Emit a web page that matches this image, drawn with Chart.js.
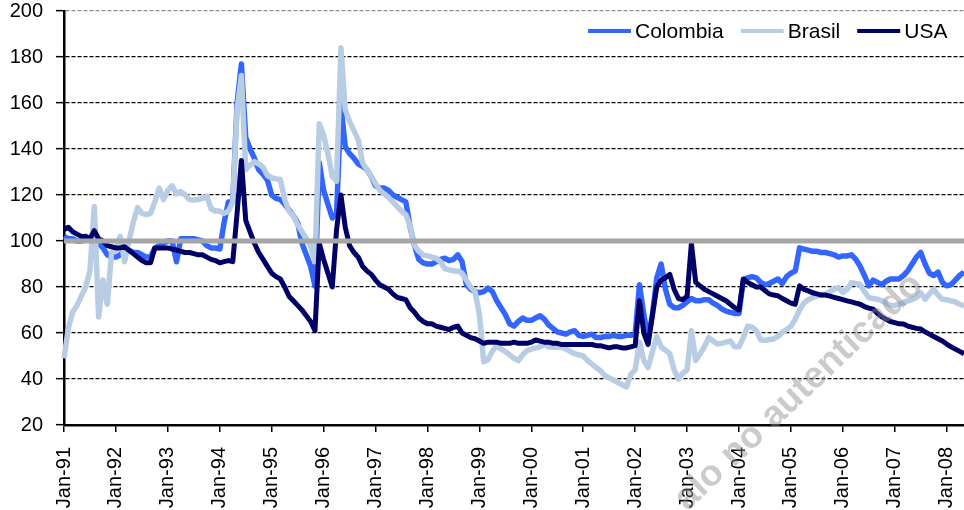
<!DOCTYPE html>
<html>
<head>
<meta charset="utf-8">
<script src="https://cdn.jsdelivr.net/npm/chart.js@4.4.0/dist/chart.umd.min.js"></script>
<style>
  html, body { margin: 0; padding: 0; background: #fff; }
</style>
</head>
<body>
<canvas id="myChart" width="964" height="510"></canvas>
<script>
// monthly index values, Jan-91 .. May-08
const monthNames = ['Jan', 'Feb', 'Mar', 'Apr', 'May', 'Jun', 'Jul', 'Aug', 'Sep', 'Oct', 'Nov', 'Dec'];
const years = ['91', '92', '93', '94', '95', '96', '97', '98', '99', '00', '01', '02', '03', '04', '05', '06', '07', '08'];
const lastYearMonths = 5;

const colombia = [
  102, 101, 101, 100, 100, 102, 101, 100, 99, 97, 94, 93,
  93, 94, 96, 96, 95, 95, 94, 93, 93, 97, 98, 99,
  100, 100, 91, 101, 101, 101, 101, 100.5, 100, 98, 97, 97,
  96.5, 108, 117, 117, 160, 177, 145, 140, 136, 131, 129, 126.5,
  120, 118.5, 118, 116, 113.5, 111, 108, 99, 94, 89, 80.5, 134,
  122, 116, 110, 112, 159, 141, 138, 136, 133.5, 132.5, 131, 128,
  124, 123, 123, 122, 120, 119, 118, 117, 106, 98, 92, 90.5,
  90, 90, 91, 92, 92.5, 91.5, 92, 94, 91, 81, 79, 78,
  77.5, 78, 79.5, 78, 74, 71, 68, 64, 63, 65, 66.5, 65.5,
  65.5, 66.5, 67.5, 66, 63.5, 62, 60.5, 60, 59.5, 60.5, 61, 59,
  58.5, 59, 59.5, 58, 58, 58.5, 58.5, 59, 58.5, 58.5, 59, 59,
  59.5, 81, 68, 57.5, 68, 84, 90, 79, 72.5, 71, 71, 72,
  73.5, 75, 74, 74, 74.5, 74.5, 73, 72, 70.5, 69.5, 69, 68.5,
  68.5, 83, 84, 84.5, 84, 82, 81, 81.5, 82.5, 83.5, 81.5, 84.5,
  86, 87, 97, 96.5, 96, 95.5, 95.5, 95, 95, 94.5, 94, 93,
  93.5, 93.5, 94, 92, 89, 85, 80.5, 83, 82, 81, 82.5, 83.5,
  83.5, 83.5, 85, 87, 90, 93, 95, 90, 86, 85, 86.5, 82,
  80.5, 81, 83, 85, 86.5
];

const brasil = [
  49, 62, 69, 72, 76, 80, 87, 115, 67, 83, 72.5, 95,
  96, 102, 91, 100, 108, 114.5, 112, 111.5, 112, 117, 123, 118,
  122, 124, 120.5, 121.5, 120, 118, 117.8, 118, 118.5, 119.5, 114, 113,
  113, 112, 113, 117, 157, 172, 131, 133, 134.5, 133.5, 132, 128.5,
  127.5, 127, 126.7, 118, 113, 111, 107, 104, 101, 98, 91, 151,
  146, 138, 128, 126, 184, 157, 152, 148, 144, 134, 131, 128,
  125, 122, 120.5, 119, 117, 115, 113, 111.5, 106.5, 98, 95.5, 94,
  93.5, 93, 92.5, 91, 88, 87.5, 87, 87, 86, 83, 80, 78,
  68, 47.5, 48.5, 52, 54.5, 53, 52, 50.5, 49, 48, 50.5, 52.3,
  53, 53.5, 54, 55, 54, 53.8, 53.8, 53.8, 53, 52, 51, 50.5,
  50, 48, 46.5, 45, 43.5, 41.5, 40.5, 39.5, 38.5, 37.5, 36.5, 42,
  44, 56, 48, 45, 52, 58.5, 54, 52.5, 51, 44, 40, 42.5,
  44, 61, 48, 51, 54, 58, 56.5, 55.2, 55.5, 56, 56.5, 54,
  54, 58, 63, 62.5, 61, 57, 56.8, 57.2, 57.4, 58.5, 60.3, 61.5,
  63, 66, 70, 73, 74.5, 75.4, 76, 76.5, 77, 78, 79, 79.8,
  77.6, 79, 81.9, 81.5, 81.2, 78, 75.4, 75, 74.7, 74, 73, 72,
  72, 72.5, 73.3, 74, 74.5, 75.5, 77.5, 74.7, 77, 79, 76.5, 74.7,
  74.5, 74, 73.5, 72.5, 71.8
];

const usa = [
  105, 106, 104, 103, 102, 102, 101, 104.5, 101, 100, 98, 97.5,
  97, 97, 97.5, 96, 94.5, 93, 91.5, 90.5, 90.5, 97, 97, 97,
  97, 96.5, 96, 95.5, 95, 95, 94.5, 94, 94, 93, 92, 91.5,
  90.5, 91, 91.5, 91, 112, 135, 109, 104, 99, 95, 92, 89,
  86, 84.5, 83.5, 80, 76, 74, 72, 70, 67.5, 65, 61, 99,
  92, 86, 80, 105, 120, 106, 98, 95, 93, 89, 87, 85.5,
  83, 81, 80, 79, 77, 75.5, 75, 74.5, 71, 69, 66.5, 65,
  64, 64, 63, 62.5, 62, 61.5, 62.5, 63, 60, 59, 58, 57.5,
  56.5, 55.5, 56, 56, 56, 55.5, 55.5, 55.5, 56, 55.5, 55.5, 55.5,
  56, 57, 56.5, 56, 56, 55.5, 55.5, 55, 55, 55, 55, 55,
  55, 55, 55, 54.5, 54.5, 54, 53.5, 54, 54, 53.5, 53.5, 54,
  54.5, 74, 60, 55, 68, 80, 83, 84, 85.5, 79, 75, 74.5,
  76, 99, 82, 80.5, 79, 78, 77, 76, 75, 74, 72.5, 71,
  70, 83.5, 82, 81, 80, 80, 78.5, 77, 76.5, 76.2, 75, 74,
  73, 72.5, 80.5, 79, 78.3, 77.5, 77, 76.5, 76.5, 76, 75.5, 75,
  74.5, 74, 73.5, 73, 72.5, 71.5, 70.8, 70.4, 68.5, 67, 66, 65,
  64.5, 64, 63.9, 63, 62.5, 62, 61.7, 60.5, 59.5, 58.5, 57.5, 56.5,
  55.2, 54, 53, 52, 51
];

const baseline = 100;

const labels = [];
years.forEach((yy, k) => {
  const n = k === years.length - 1 ? lastYearMonths : 12;
  for (let m = 0; m < n; m++) labels.push(`${monthNames[m]}-${yy}`);
});

const fontFamily = '"Liberation Sans", Arial, Helvetica, sans-serif';
Chart.defaults.font.family = fontFamily;

// legend drawn inside the plot, top right
const insideLegend = {
  id: 'insideLegend',
  afterDraw(chart) {
    const ctx = chart.ctx;
    const items = chart.data.datasets.filter(d => d.inLegend).reverse();
    ctx.save();
    ctx.font = '21px ' + fontFamily;
    ctx.textBaseline = 'middle';
    let x = 588;
    const y = 32;
    items.forEach(item => {
      ctx.strokeStyle = item.borderColor;
      ctx.lineWidth = 4;
      ctx.beginPath();
      ctx.moveTo(x, y - 1);
      ctx.lineTo(x + 43, y - 1);
      ctx.stroke();
      x += 47;
      ctx.fillStyle = '#000';
      ctx.fillText(item.label, x, y);
      x += ctx.measureText(item.label).width + 17;
    });
    ctx.restore();
  }
};

const watermark = {
  id: 'watermark',
  afterDraw(chart) {
    const ctx = chart.ctx;
    ctx.save();
    ctx.translate(799, 392);
    ctx.rotate(-43.4 * Math.PI / 180);
    ctx.font = 'bold 37px ' + fontFamily;
    ctx.textAlign = 'center';
    ctx.textBaseline = 'middle';
    ctx.fillStyle = 'rgba(140, 140, 140, 0.45)';
    ctx.fillText('alo no autenticado', 0, 0);
    ctx.restore();
  }
};

const myChart = document.getElementById('myChart');

new Chart(myChart, {
  type: 'line',
  data: {
    labels: labels,
    datasets: [
      {
        label: '100',
        data: [{x: labels[0], y: baseline}, {x: labels[labels.length - 1], y: baseline}],
        borderColor: '#A6A6A6',
        borderWidth: 5,
        pointRadius: 0,
        order: 0
      },
      {
        label: 'USA',
        data: usa,
        borderColor: '#000066',
        borderWidth: 5,
        pointRadius: 0,
        borderJoinStyle: 'round',
        inLegend: true,
        order: 1
      },
      {
        label: 'Brasil',
        data: brasil,
        borderColor: '#B8CCE4',
        borderWidth: 5.5,
        pointRadius: 0,
        borderJoinStyle: 'round',
        inLegend: true,
        order: 2
      },
      {
        label: 'Colombia',
        data: colombia,
        borderColor: '#3366FF',
        borderWidth: 5.5,
        pointRadius: 0,
        borderJoinStyle: 'round',
        inLegend: true,
        order: 3
      }
    ]
  },
  options: {
    responsive: false,
    animation: false,
    devicePixelRatio: 1,
    layout: { padding: { top: 11, right: 0, left: 0, bottom: 0 } },
    plugins: {
      legend: { display: false },
      tooltip: { enabled: false }
    },
    scales: {
      x: {
        ticks: {
          autoSkip: false,
          maxRotation: 90,
          minRotation: 90,
          padding: 15,
          color: '#000',
          font: { size: 20 },
          callback: function (value, index) {
            return index % 12 === 0 ? labels[index] : null;
          }
        },
        grid: {
          drawOnChartArea: false,
          tickLength: 7,
          lineWidth: 1.5,
          color: '#000',
          tickColor: ctx => (ctx.tick && ctx.tick.label ? '#000' : 'rgba(0,0,0,0)')
        },
        border: { color: '#000', width: 2.5 },
        afterFit(scale) {
          scale.height = 85;
          scale.paddingLeft = 0;
          scale.paddingRight = 0;
        }
      },
      y: {
        min: 20,
        max: 200,
        ticks: {
          stepSize: 20,
          padding: 13,
          color: '#000',
          font: { size: 20 }
        },
        grid: {
          color: ctx => (ctx.tick && ctx.tick.value === 200 ? '#8c8c8c' : '#000000'),
          lineWidth: 1.3,
          tickLength: 8,
          tickColor: '#000',
          tickWidth: 1.5
        },
        border: { color: '#000', width: 2.5, dash: [4, 2] },
        afterFit(scale) {
          scale.width = 64;
          scale.paddingTop = 0;
          scale.paddingBottom = 0;
        }
      }
    }
  },
  plugins: [insideLegend, watermark]
});
</script>
</body>
</html>
